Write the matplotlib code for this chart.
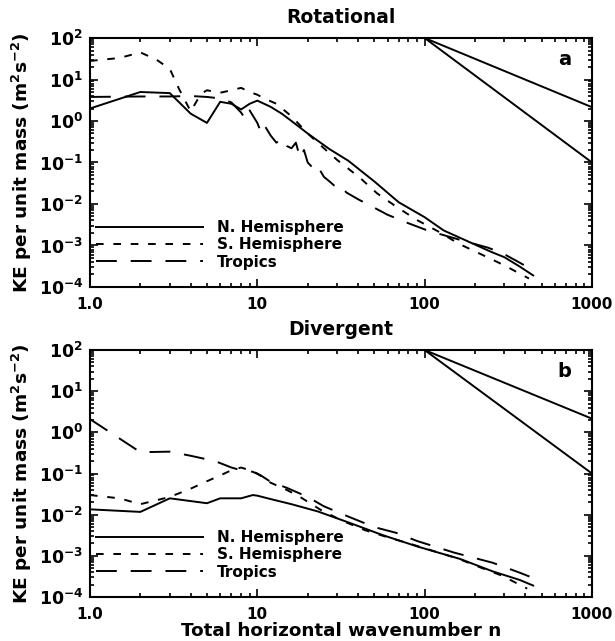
import matplotlib
matplotlib.use("Agg")
import matplotlib.pyplot as plt
from matplotlib.ticker import FixedLocator, FixedFormatter, LogLocator, NullFormatter

# ----- Rotational KE spectra -----
n_nh_rot = [1, 2, 3, 4, 5, 6, 7, 8, 9, 10, 12, 14, 16, 20, 27, 35, 50, 70, 100,
            130, 186, 250, 300, 370, 445]
ke_nh_rot = [2.0, 5.0, 4.7, 1.5, 0.9, 2.9, 2.6, 1.9, 2.6, 3.1, 2.2, 1.5, 1.0, 0.5,
             0.21, 0.11, 0.035, 0.011, 0.0048, 0.0023, 0.0012, 0.0007, 0.00052,
             0.00031, 0.00019]

n_sh_rot = [1, 1.5, 2, 2.5, 3, 3.4, 4, 4.6, 5, 6, 7, 8, 9, 10, 11, 13, 16, 20, 25,
            30, 41, 52, 68, 90, 120, 160, 220, 300, 420]
ke_sh_rot = [28, 33, 45, 30, 18, 6, 1.7, 4.5, 5.5, 4.8, 5.5, 6.3, 5.0, 4.3, 3.5,
             2.6, 1.3, 0.5, 0.22, 0.115, 0.043, 0.018, 0.0085, 0.0041, 0.0022,
             0.0011, 0.0006, 0.00033, 0.00016]

n_tr_rot = [1, 2, 3, 4, 5, 6, 7, 8, 8.5, 9, 10, 10.5, 11, 12, 13, 14, 15, 16, 17,
            18, 19, 20, 22, 23, 25, 27, 30, 32, 34, 40, 47, 60, 79, 104, 142, 170,
            240, 290, 372, 440]
ke_tr_rot = [3.8, 3.9, 3.9, 4.0, 3.8, 3.5, 2.8, 1.6, 1.1, 1.8, 0.9, 0.55, 0.8,
             0.45, 0.3, 0.38, 0.25, 0.22, 0.3, 0.13, 0.2, 0.1, 0.067, 0.08, 0.045,
             0.035, 0.024, 0.026, 0.019, 0.013, 0.0093, 0.0055, 0.0035, 0.0023,
             0.0016, 0.0013, 0.00088, 0.00066, 0.00038, 0.00026]

# ----- Divergent KE spectra -----
n_nh_div = [1, 2, 3, 5, 6, 8, 9.4, 10, 12, 16, 23, 35, 56, 90, 163, 255, 370, 445]
ke_nh_div = [0.0135, 0.0117, 0.025, 0.019, 0.025, 0.025, 0.030, 0.029, 0.024,
             0.018, 0.012, 0.0065, 0.0032, 0.0017, 0.00084, 0.00042, 0.00026,
             0.00019]

n_sh_div = [1, 1.5, 2, 3, 4, 5, 6, 7, 8, 9, 10, 12, 15, 18, 24, 32, 44, 59, 84,
            158, 211, 290, 410]
ke_sh_div = [0.030, 0.025, 0.018, 0.027, 0.043, 0.065, 0.09, 0.12, 0.14, 0.12,
             0.10, 0.06, 0.04, 0.027, 0.013, 0.0072, 0.0042, 0.0029, 0.0019,
             0.00086, 0.00054, 0.00033, 0.00016]

n_tr_div = [1, 2, 3, 4, 5.6, 7, 8, 9.4, 10.5, 12, 15, 20, 25, 35, 50, 68, 90, 150,
            255, 370, 445]
ke_tr_div = [2.1, 0.33, 0.34, 0.27, 0.2, 0.14, 0.12, 0.11, 0.09, 0.063, 0.045,
             0.027, 0.016, 0.009, 0.005, 0.0036, 0.0023, 0.0012, 0.00068, 0.00039,
             0.00029]

# reference slopes n^-5/3 and n^-3 starting at n=100
n_ref = [100, 1000]
ke_ref_53 = [100, 2.15]
ke_ref_3 = [100, 0.1]

x_ticks = [1, 10, 100, 1000]
x_labels = ["1.0", "10", "100", "1000"]
y_ticks = [1e-4, 1e-3, 1e-2, 1e-1, 1e0, 1e1, 1e2]
y_labels = [r"$10^{-4}$", r"$10^{-3}$", r"$10^{-2}$", r"$10^{-1}$",
            r"$10^{0}$", r"$10^{1}$", r"$10^{2}$"]

plt.rcParams["font.family"] = "DejaVu Sans"
plt.rcParams["font.weight"] = "bold"
plt.rcParams["mathtext.default"] = "bf"
plt.rcParams["lines.scale_dashes"] = False

LW = 1.4
SH_DASH = (5.5, 7)
TR_DASH = (15, 10)


def draw_panel(ax, title, letter, nh, sh, tr):
    ax.plot(nh[0], nh[1], color="black", lw=LW, label="N. Hemisphere")
    ax.plot(sh[0], sh[1], color="black", lw=LW, dashes=SH_DASH, label="S. Hemisphere")
    ax.plot(tr[0], tr[1], color="black", lw=LW, dashes=TR_DASH, label="Tropics")
    ax.plot(n_ref, ke_ref_53, color="black", lw=LW)
    ax.plot(n_ref, ke_ref_3, color="black", lw=LW)

    ax.set_xscale("log")
    ax.set_yscale("log")
    ax.set_xlim(1, 1000)
    ax.set_ylim(1e-4, 1e2)

    ax.xaxis.set_major_locator(FixedLocator(x_ticks))
    ax.xaxis.set_major_formatter(FixedFormatter(x_labels))
    ax.xaxis.set_minor_locator(LogLocator(base=10, subs=range(2, 10)))
    ax.xaxis.set_minor_formatter(NullFormatter())
    ax.yaxis.set_major_locator(FixedLocator(y_ticks))
    ax.yaxis.set_major_formatter(FixedFormatter(y_labels))
    ax.yaxis.set_minor_locator(LogLocator(base=10, subs=range(2, 10)))
    ax.yaxis.set_minor_formatter(NullFormatter())

    ax.tick_params(which="both", direction="in", top=True, right=True, width=1.2)
    ax.tick_params(which="major", length=6)
    ax.tick_params(axis="x", which="major", pad=7, labelsize=11)
    ax.tick_params(axis="y", which="major", pad=5, labelsize=12.5)
    ax.tick_params(which="minor", length=3)
    for s in ax.spines.values():
        s.set_linewidth(1.5)

    ax.set_title(title, fontsize=13.5, fontweight="bold", pad=11)
    ax.text(0.945, 0.912, letter, transform=ax.transAxes, fontsize=14,
            fontweight="bold", ha="center", va="center")
    ax.set_ylabel(r"KE per unit mass (m$^2$s$^{-2}$)", fontsize=13.3,
                  fontweight="bold", labelpad=3)

    ax.legend(loc="lower left", bbox_to_anchor=(0.012, 0.07), frameon=False,
              fontsize=11, handlelength=7.0, handletextpad=0.9,
              labelspacing=0.15, borderpad=0, borderaxespad=0)


fig = plt.figure(figsize=(6.15, 6.41), dpi=100)
ax_top = fig.add_axes([0.1463, 0.5523, 0.8163, 0.3884])
ax_bot = fig.add_axes([0.1463, 0.0686, 0.8163, 0.3853])

draw_panel(ax_top, "Rotational", "a",
           (n_nh_rot, ke_nh_rot), (n_sh_rot, ke_sh_rot), (n_tr_rot, ke_tr_rot))
draw_panel(ax_bot, "Divergent", "b",
           (n_nh_div, ke_nh_div), (n_sh_div, ke_sh_div), (n_tr_div, ke_tr_div))

# shared x-axis title under the lower panel
fig.text(0.5545, 0.0085, "Total horizontal wavenumber n", fontsize=13.2,
         fontweight="bold", ha="center", va="baseline")

fig.savefig("out.png", dpi=100)
